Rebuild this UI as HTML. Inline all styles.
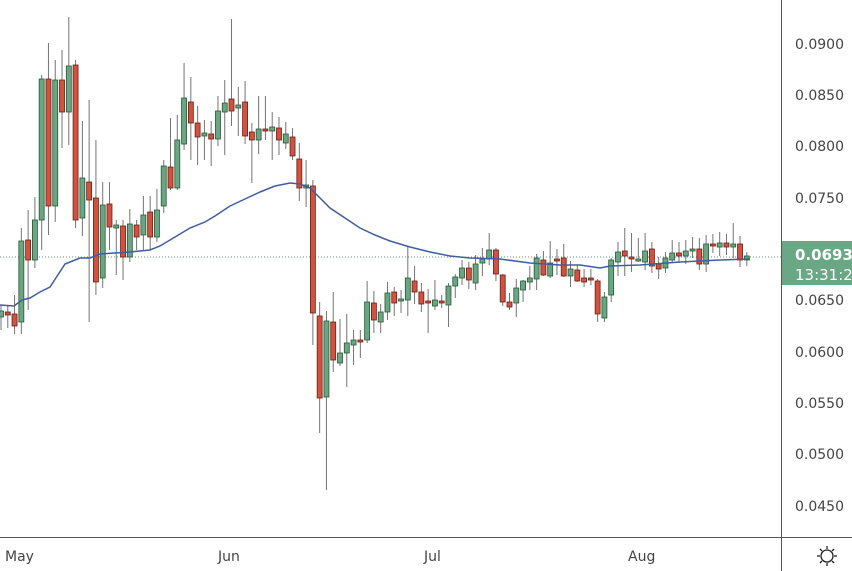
<!DOCTYPE html>
<html><head><meta charset="utf-8"><style>
body{margin:0;background:#fff;}
svg{display:block;font-family:"DejaVu Sans","Liberation Sans",sans-serif;}
</style></head><body>
<svg id="c" width="852" height="571" viewBox="0 0 852 571" xmlns="http://www.w3.org/2000/svg">
<rect width="852" height="571" fill="#fff"/>
<line x1="0" y1="257" x2="781" y2="257" stroke="#6a8f7a" stroke-width="1" stroke-dasharray="1,2"/>
<g id="candles"></g>
<polyline fill="none" stroke="#3f5ea0" stroke-width="1.5" points="0,305 14,306 22,300 30,298 40,292 50,287 65,264 80,258 90,258 100,254 115,253 130,252 150,250 160,246 175,237 190,228 205,222 215,216 230,206 245,199 260,192 275,186 290,183 300,184 310,188 320,198 330,208 345,218 360,228 375,235 390,241 410,247 430,252 450,256 470,258 500,259 530,263 560,265 580,265 600,268 610,266 640,265 680,262 720,260 750,259"/>
<line x1="781.5" y1="0" x2="781.5" y2="571" stroke="#555" stroke-width="1"/>
<line x1="0" y1="537.5" x2="852" y2="537.5" stroke="#555" stroke-width="1"/>
<g fill="#444" font-size="14">
<text x="795" y="49">0.0900</text>
<text x="795" y="100">0.0850</text>
<text x="795" y="151">0.0800</text>
<text x="795" y="203">0.0750</text>
<text x="795" y="254">0.0700</text>
<text x="795" y="305">0.0650</text>
<text x="795" y="357">0.0600</text>
<text x="795" y="408">0.0550</text>
<text x="795" y="459">0.0500</text>
<text x="795" y="511">0.0450</text>
<text x="5" y="561">May</text>
<text x="218" y="561">Jun</text>
<text x="424" y="561">Jul</text>
<text x="628" y="561">Aug</text>
</g>
<rect x="782" y="241" width="70" height="44" fill="#6aa784"/>
<text x="795" y="260" fill="#fff" font-size="15" font-weight="bold">0.0693</text>
<text x="795" y="280" fill="#fff" font-size="15">13:31:2</text>
<g stroke="#222" stroke-width="1.3" fill="none">
<circle cx="827" cy="556" r="6"/>
<line x1="827" y1="546" x2="827" y2="549"/><line x1="827" y1="563" x2="827" y2="566"/>
<line x1="817" y1="556" x2="820" y2="556"/><line x1="834" y1="556" x2="837" y2="556"/>
<line x1="820" y1="549" x2="822" y2="551"/><line x1="832" y1="561" x2="834" y2="563"/>
<line x1="834" y1="549" x2="832" y2="551"/><line x1="822" y1="561" x2="820" y2="563"/>
</g>
</svg>
<script>
var d=[
["g",311,317,305,330],["r",312,315,305,328],["r",314,326,295,334],["g",241,322,228,334],["r",240,260,210,310],
["g",220,260,197,268],["g",79,220,75,250],["r",79,206,43,235],["g",80,206,60,222],["r",80,112,50,148],
["g",66,112,17,145],["r",65,220,60,228],["g",178,218,121,236],["r",182,200,100,322],["r",198,282,140,295],
["g",205,278,182,288],["r",204,227,182,250],["g",225,228,220,275],["r",226,257,220,280],["g",224,257,209,262],
["r",225,237,220,250],["g",215,235,196,250],["r",212,237,196,250],["g",210,237,189,242],["g",166,206,160,213],
["r",167,188,118,190],["g",140,188,115,190],["g",98,144,63,150],["r",102,123,77,160],["r",123,137,106,165],
["g",133,136,120,160],["r",134,139,121,166],["g",111,139,96,146],["g",103,112,80,155],["r",99,111,19,126],
["g",105,108,87,136],["r",102,136,81,144],["r",132,140,123,183],["g",129,140,96,154],["r",129,131,96,140],
["g",127,131,112,160],["r",128,140,117,155],["g",134,143,122,149],["r",137,156,128,160],["r",159,188,143,201],
["g",185,188,160,207],["r",186,313,180,345],["r",316,398,302,433],["g",321,397,311,490],["r",322,360,292,372],
["g",353,363,319,366],["g",343,353,314,387],["g",340,345,330,365],["r",340,341,330,358],["g",302,340,281,343],
["r",303,320,291,333],["g",312,322,304,333],["g",293,312,282,320],["r",292,303,287,316],["g",299,301,290,313],
["g",278,300,247,316],["r",281,292,266,304],["r",292,304,283,312],["r",301,302,289,333],["g",300,306,280,310],
["r",301,302,295,308],["g",286,305,283,327],["g",277,286,274,298],["g",268,278,260,285],["r",268,280,262,289],
["g",264,283,255,290],["g",259,263,248,276],["g",250,259,233,265],["r",250,274,248,281],["r",275,302,274,306],
["r",302,307,293,310],["g",288,303,279,317],["g",281,290,280,302],["g",278,282,266,290],["g",258,279,254,290],
["r",260,275,251,276],["g",263,276,241,278],["r",259,260,249,275],["r",258,276,244,277],["g",269,276,261,287],
["r",270,281,265,282],["r",278,282,269,287],["r",278,280,269,285],["r",281,314,279,322],["g",297,318,292,322],
["g",260,295,258,302],["g",252,262,242,276],["r",251,256,228,276],["r",257,259,233,272],["g",259,260,238,262],
["g",251,262,233,270],["r",249,266,242,273],["r",264,269,257,279],["g",258,268,252,273],["g",253,260,240,263],
["r",253,256,242,263],["g",251,256,240,264],["g",249,251,237,258],["r",249,264,238,270],["g",244,264,235,272],
["r",244,245,234,253],["g",243,247,232,256],["r",243,247,234,255],["g",244,247,223,258],["r",244,260,236,267],
["g",256,260,252,266]];
var s="";
d.forEach(function(c,i){
 var x=1+i*6.78, f=c[0]=="g"?"#6ba583":"#d0523f", st=c[0]=="g"?"#225b33":"#6b1f17";
 var h=Math.max(c[2]-c[1],2);
 s+='<line x1="'+x+'" y1="'+c[3]+'" x2="'+x+'" y2="'+c[4]+'" stroke="#737373" stroke-width="1"/>';
 s+='<rect x="'+(x-2.5)+'" y="'+c[1]+'" width="5" height="'+h+'" fill="'+f+'" stroke="'+st+'" stroke-width="0.8"/>';
});
document.getElementById("candles").innerHTML=s;
</script>
</body></html>
